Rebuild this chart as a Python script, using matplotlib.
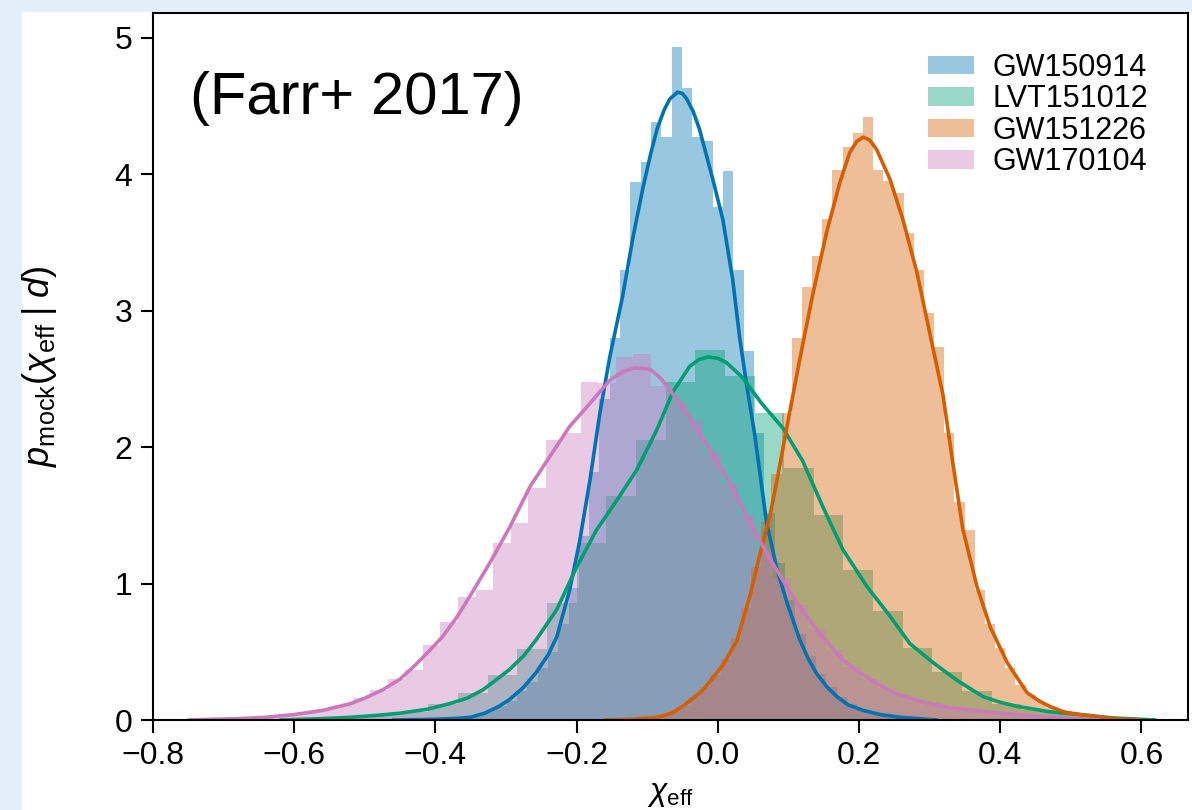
import numpy as np
import matplotlib
matplotlib.use("Agg")
import matplotlib.pyplot as plt
from matplotlib.patches import Rectangle

plt.rcParams['font.family'] = ['Liberation Sans', 'DejaVu Sans']
plt.rcParams['mathtext.fontset'] = 'custom'
plt.rcParams['mathtext.rm'] = 'Liberation Sans'
plt.rcParams['mathtext.it'] = 'Liberation Sans:italic'

# ------------------------- data ------------------------- #
names = ["GW150914", "LVT151012", "GW151226", "GW170104"]
colors = ["#0173b2", "#029e73", "#d55e00", "#cc78bc"]

# histogram bins: (first edge, bin width) and bar heights
blue_bins = (-0.445, 0.0146)
blue_hist = [0.004, 0.005, 0.007, 0.01, 0.015, 0.02, 0.03, 0.05, 0.07, 0.10,
             0.14, 0.21, 0.28, 0.38, 0.50, 0.70, 0.97, 1.35, 1.82, 2.35,
             2.80, 3.30, 3.94, 4.09, 4.38, 4.27, 4.93, 4.63, 4.27, 4.24,
             3.76, 4.02, 3.30, 2.70, 2.10, 1.52, 1.15, 0.88, 0.63, 0.47,
             0.34, 0.24, 0.17, 0.12, 0.08, 0.06, 0.04, 0.03, 0.02, 0.01]

green_bins = (-0.62, 0.042)
green_hist = [0.003, 0.01, 0.02, 0.04, 0.06, 0.12, 0.20, 0.33, 0.52, 0.86,
              1.30, 1.64, 2.05, 2.48, 2.71, 2.52, 2.25, 1.85, 1.50, 1.10,
              0.80, 0.53, 0.35, 0.21, 0.12, 0.07, 0.05, 0.03, 0.01]

orange_bins = (-0.14, 0.0144)
orange_hist = [0.003, 0.005, 0.01, 0.02, 0.04, 0.07, 0.11, 0.17, 0.24, 0.33,
               0.45, 0.60, 0.82, 1.12, 1.45, 1.80, 2.25, 2.80, 3.17, 3.40,
               3.67, 4.03, 4.20, 4.30, 4.42, 4.03, 3.95, 3.86, 3.57, 3.30,
               2.98, 2.73, 2.10, 1.60, 1.39, 0.95, 0.70, 0.53, 0.38, 0.26,
               0.18, 0.13, 0.09, 0.07, 0.05, 0.035, 0.02, 0.015, 0.01, 0.005]

pink_bins = (-0.74, 0.0248)
pink_hist = [0.003, 0.005, 0.01, 0.015, 0.025, 0.035, 0.05, 0.08, 0.11, 0.16,
             0.22, 0.30, 0.37, 0.55, 0.72, 0.90, 0.95, 1.30, 1.44, 1.70,
             2.05, 2.10, 2.48, 2.47, 2.66, 2.68, 2.45, 2.33, 2.20, 1.96,
             1.73, 1.50, 1.24, 1.04, 0.84, 0.67, 0.51, 0.39, 0.30, 0.23,
             0.18, 0.14, 0.11, 0.085, 0.07, 0.055, 0.045, 0.035, 0.025, 0.015]

# kde curves
blue_kx = [-0.46, -0.40, -0.37, -0.35, -0.33, -0.31, -0.295, -0.275, -0.257, -0.24,
           -0.228, -0.21, -0.196, -0.181, -0.167, -0.153, -0.135, -0.120, -0.106, -0.095,
           -0.086, -0.076, -0.068, -0.057, -0.050, -0.044, -0.035, -0.026, -0.007, 0.007,
           0.021, 0.031, 0.041, 0.052, 0.069, 0.084, 0.098, 0.116, 0.128, 0.140,
           0.155, 0.169, 0.185, 0.206, 0.230, 0.258, 0.31]
blue_ky = [0.0, 0.005, 0.012, 0.02, 0.05, 0.10, 0.15, 0.24, 0.35, 0.48,
           0.61, 0.95, 1.30, 1.76, 2.25, 2.66, 3.10, 3.54, 3.90, 4.15,
           4.33, 4.47, 4.55, 4.60, 4.59, 4.55, 4.46, 4.33, 3.96, 3.67,
           3.23, 2.80, 2.45, 2.10, 1.45, 1.10, 0.86, 0.59, 0.45, 0.34,
           0.24, 0.17, 0.11, 0.07, 0.04, 0.02, 0.0]

green_kx = [-0.62, -0.56, -0.52, -0.48, -0.45, -0.41, -0.38, -0.355, -0.333, -0.315,
            -0.295, -0.275, -0.257, -0.228, -0.200, -0.172, -0.143, -0.115, -0.086, -0.064,
            -0.040, -0.027, -0.014, 0.000, 0.012, 0.035, 0.062, 0.092, 0.120, 0.149,
            0.177, 0.211, 0.244, 0.272, 0.305, 0.339, 0.376, 0.400, 0.424, 0.470,
            0.513, 0.56, 0.62]
green_ky = [0.0, 0.01, 0.02, 0.035, 0.05, 0.08, 0.12, 0.16, 0.22, 0.29,
            0.37, 0.47, 0.59, 0.81, 1.12, 1.39, 1.61, 1.83, 2.13, 2.40,
            2.59, 2.64, 2.66, 2.65, 2.62, 2.51, 2.32, 2.14, 1.90, 1.56,
            1.25, 0.98, 0.76, 0.56, 0.42, 0.29, 0.17, 0.13, 0.10, 0.06,
            0.04, 0.015, 0.0]

orange_kx = [-0.16, -0.12, -0.086, -0.065, -0.05, -0.035, -0.021, 0.007, 0.027, 0.045,
             0.060, 0.074, 0.084, 0.098, 0.116, 0.135, 0.154, 0.173, 0.187, 0.197,
             0.206, 0.215, 0.225, 0.244, 0.262, 0.282, 0.300, 0.319, 0.333, 0.347,
             0.367, 0.386, 0.410, 0.438, 0.455, 0.470, 0.49, 0.513, 0.56, 0.60]
orange_ky = [0.0, 0.005, 0.02, 0.05, 0.10, 0.16, 0.22, 0.40, 0.58, 0.90,
             1.22, 1.50, 1.76, 2.15, 2.64, 3.13, 3.57, 3.94, 4.16, 4.24,
             4.27, 4.25, 4.18, 3.96, 3.67, 3.28, 2.84, 2.38, 1.88, 1.40,
             0.98, 0.68, 0.42, 0.20, 0.14, 0.10, 0.06, 0.04, 0.01, 0.0]

pink_kx = [-0.75, -0.68, -0.64, -0.60, -0.56, -0.52, -0.50, -0.475, -0.45, -0.427,
           -0.41, -0.390, -0.37, -0.352, -0.323, -0.295, -0.266, -0.238, -0.210, -0.181,
           -0.153, -0.135, -0.118, -0.096, -0.082, -0.068, -0.040, -0.011, 0.017, 0.045,
           0.074, 0.102, 0.120, 0.140, 0.160, 0.177, 0.200, 0.225, 0.250, 0.272,
           0.300, 0.329, 0.400, 0.470, 0.54]
pink_ky = [0.0, 0.01, 0.02, 0.04, 0.07, 0.12, 0.16, 0.22, 0.30, 0.41,
           0.50, 0.61, 0.75, 0.90, 1.15, 1.41, 1.71, 1.93, 2.15, 2.32,
           2.49, 2.55, 2.58, 2.57, 2.51, 2.42, 2.22, 1.98, 1.74, 1.45,
           1.18, 0.94, 0.80, 0.66, 0.54, 0.44, 0.35, 0.27, 0.20, 0.16,
           0.12, 0.09, 0.05, 0.02, 0.0]

bins = [blue_bins, green_bins, orange_bins, pink_bins]
hists = [blue_hist, green_hist, orange_hist, pink_hist]
kdes = [(blue_kx, blue_ky), (green_kx, green_ky), (orange_kx, orange_ky), (pink_kx, pink_ky)]

# ------------------------------- plotting ----------------------------------- #
fig = plt.figure(figsize=(11.92, 8.10), dpi=100, facecolor="#e4eefb")
# white slide panel behind the plot
fig.patches.append(Rectangle((22 / 1192, 0), 1 - 22 / 1192, 1 - 12 / 810,
                             transform=fig.transFigure, color="white", zorder=-1))
ax = fig.add_axes([153 / 1192, 1 - 720 / 810, (1188 - 153) / 1192, (720 - 13) / 810])

for name, col, (start, width), h in zip(names, colors, bins, hists):
    edges = start + width * np.arange(len(h) + 1)
    ax.stairs(h, edges, fill=True, color=col, alpha=0.4, linewidth=0, label=name)

for col, (kx, ky) in zip(colors, kdes):
    ax.plot(kx, ky, color=col, lw=2.6, solid_capstyle="round", solid_joinstyle="round")

ax.set_xlim(-0.8, 0.666)
ax.set_ylim(0, 5.18)
ax.set_xticks([-0.8, -0.6, -0.4, -0.2, 0.0, 0.2, 0.4, 0.6])
ax.set_xticklabels(["\u22120.8", "\u22120.6", "\u22120.4", "\u22120.2", "0.0", "0.2", "0.4", "0.6"])
ax.set_yticks([0, 1, 2, 3, 4, 5])
ax.tick_params(labelsize=23, length=9, width=1.5, pad=6, direction="out")
for sp in ax.spines.values():
    sp.set_linewidth(1.5)

ax.set_xlabel(r"$\chi_{\rm eff}$", fontsize=23, labelpad=6)
ax.set_ylabel(r"$p_{\rm mock}(\chi_{\rm eff}\;|\;d)$", fontsize=26, labelpad=40)

ax.text(-0.748, 4.55, "(Farr+ 2017)", fontsize=43, va="center", ha="left")

ax.legend(loc="upper right", frameon=False, fontsize=22, handlelength=1.5,
          handleheight=0.55, labelspacing=0.05, handletextpad=0.6,
          borderaxespad=0.9)

fig.savefig("out.png", dpi=100, facecolor=fig.get_facecolor())
